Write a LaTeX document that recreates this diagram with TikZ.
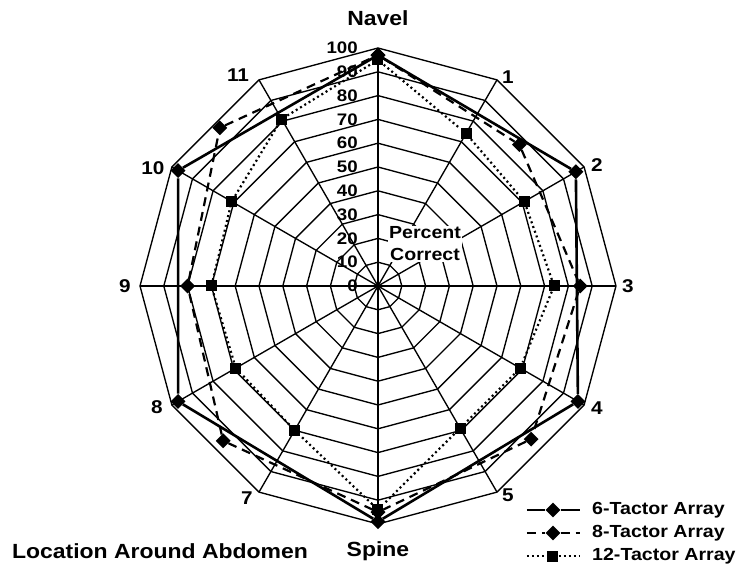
\documentclass[tikz,border=0pt]{standalone}
\usepackage{fontspec}
\setmainfont{Liberation Sans}[FakeStretch=1.12]
\usetikzlibrary{shapes.geometric}

\begin{document}
\begin{tikzpicture}[x=2.38pt, y=2.38pt,
  grid/.style={line width=1.35pt},
  six/.style={line width=2.6pt},
  eight/.style={line width=2.2pt, dash pattern=on 9pt off 6pt},
  twelve/.style={line width=2.2pt, dash pattern=on 2pt off 3pt},
  dia/.style={diamond, fill, inner sep=0pt, minimum width=15pt, minimum height=15pt},
  sq/.style={rectangle, fill, inner sep=0pt, minimum size=11pt},
  tick/.style={anchor=east, inner sep=0pt, font=\bfseries\fontsize{16.7}{18}\selectfont},
  spoke/.style={font=\bfseries\fontsize{18.5}{20}\selectfont},
  title/.style={font=\bfseries\fontsize{20.5}{22}\selectfont},
  key/.style={anchor=west, inner sep=0pt, font=\bfseries\fontsize{17.5}{19}\selectfont}]
\useasboundingbox (-378pt,-279pt) rectangle (362pt,286pt);

% rings and spokes
\foreach \r in {10,20,...,100}
  \draw[grid] (90:\r) \foreach \a in {60,30,...,-240} {-- (\a:\r)} -- cycle;
\foreach \a in {90,60,...,-240}
  \draw[grid] (0,0) -- (\a:100);
\foreach \v in {0,10,...,100}
  \node[tick] at ([xshift=-20pt]0,\v) {\v};

\node[fill=white, align=center, inner sep=1pt, font=\bfseries\fontsize{17.5}{22}\selectfont] (pc) at (47pt,42pt) {Percent\\Correct};

% 12-tactor
\node[sq] (t0) at (90:95) {};
\node[sq] (t1) at (60:74) {};
\node[sq] (t2) at (30:71) {};
\node[sq] (t3) at (0:74) {};
\node[sq] (t4) at (-30:69) {};
\node[sq] (t5) at (-60:69) {};
\node[sq] (t6) at (-90:94) {};
\node[sq] (t7) at (-120:70) {};
\node[sq] (t8) at (-150:69) {};
\node[sq] (t9) at (180:70) {};
\node[sq] (t10) at (150:71) {};
\node[sq] (t11) at (120:81) {};
\draw[twelve] (t0) -- (t1) -- (t2) -- (t3) -- (t4) -- (t5) -- (t6) -- (t7) -- (t8) -- (t9) -- (t10) -- (t11) -- (t0);

% 8-tactor
\node[dia] (e0) at (90:97) {};
\node[dia] (e1) at (45:84) {};
\node[dia] (e2) at (0:85) {};
\node[dia] (e3) at (-45:91) {};
\node[dia] (e4) at (-90:95) {};
\node[dia] (e5) at (-135:92) {};
\node[dia] (e6) at (180:80) {};
\node[dia] (e7) at (135:94) {};
\draw[eight] (e0) -- (e1) -- (e2) -- (e3) -- (e4) -- (e5) -- (e6) -- (e7) -- (e0);

% 6-tactor
\node[dia] (s0) at (90:97) {};
\node[dia] (s1) at (30:96) {};
\node[dia] (s2) at (-30:97) {};
\node[dia] (s3) at (-90:99) {};
\node[dia] (s4) at (-150:97) {};
\node[dia] (s5) at (150:97) {};
\draw[six] (s0) -- (s1) -- (s2) -- (s3) -- (s4) -- (s5) -- (s0);

% locations
\node[title] (navel) at (90:268pt) {Navel};
\node[spoke] (l1) at (130pt,209pt) {1};
\node[spoke] (l2) at (219pt,121pt) {2};
\node[spoke] (l3) at (0:250pt) {3};
\node[spoke] (l4) at (219pt,-122pt) {4};
\node[spoke] (l5) at (130pt,-209pt) {5};
\node[title] (spine) at (-90:265pt) {Spine};
\node[spoke] (l7) at (-131pt,-212pt) {7};
\node[spoke] (l8) at (-221pt,-121pt) {8};
\node[spoke] (l9) at (180:253pt) {9};
\node[spoke] (l10) at (-225pt,118pt) {10};
\node[spoke] (l11) at (-140pt,211pt) {11};
\node[title] (loc) at (-218pt,-265pt) {Location Around Abdomen};

% legend
\coordinate (k1a) at (149pt,-224pt);
\node[dia] (k1m) at (175pt,-224pt) {};
\coordinate (k1b) at (202pt,-224pt);
\draw[six] (k1a) -- (k1m) -- (k1b);
\node[key] (k1) at (214pt,-224pt) {6-Tactor Array};
\coordinate (k2a) at (149pt,-247pt);
\node[dia] (k2m) at (175pt,-247pt) {};
\coordinate (k2b) at (202pt,-247pt);
\draw[eight] (k2a) -- (k2m) -- (k2b);
\node[key] (k2) at (214pt,-247pt) {8-Tactor Array};
\coordinate (k3a) at (149pt,-270pt);
\node[sq] (k3m) at (175pt,-270pt) {};
\coordinate (k3b) at (202pt,-270pt);
\draw[twelve] (k3a) -- (k3m) -- (k3b);
\node[key] (k3) at (214pt,-270pt) {12-Tactor Array};
\end{tikzpicture}
\end{document}
